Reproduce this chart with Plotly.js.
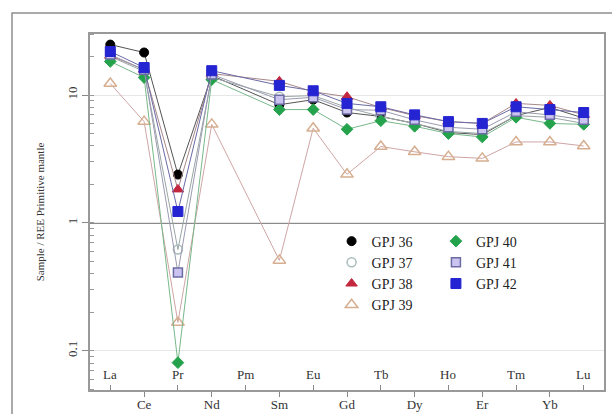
<!DOCTYPE html>
<html>
<head>
<meta charset="utf-8">
<script src="https://cdn.plot.ly/plotly-3.0.1.min.js"></script>
<style>
html,body{margin:0;padding:0;background:#fff;}
#chart{width:612px;height:414px;}
</style>
</head>
<body>
<div id="chart"></div>
<script>
// REE elements (x categories)
const elements = ['La','Ce','Pr','Nd','Pm','Sm','Eu','Gd','Tb','Dy','Ho','Er','Tm','Yb','Lu'];

// Series names
const seriesNames = ['GPJ 36','GPJ 37','GPJ 38','GPJ 39','GPJ 40','GPJ 41','GPJ 42'];

// Primitive-mantle normalised values (Pm not analysed)
const gpj36 = [24.8, 21.5, 2.39, 14.2, null, 8.4, 9.2, 7.3, 6.8, 6.0, 5.1, 4.9, 6.9, 8.0, 6.6];
const gpj37 = [20.0, 15.3, 0.62, 13.7, null, 9.7, 9.9, 8.0, 6.8, 6.0, 5.2, 5.0, 6.9, 6.7, 6.0];
const gpj38 = [20.3, 15.8, 1.83, 14.7, null, 12.8, 10.6, 9.7, 8.0, 6.9, 6.2, 6.0, 8.6, 8.3, 7.0];
const gpj39 = [12.3, 6.2, 0.167, 5.9, null, 0.51, 5.5, 2.4, 3.96, 3.6, 3.3, 3.2, 4.3, 4.3, 4.0];
const gpj40 = [18.3, 13.7, 0.081, 13.2, null, 7.7, 7.7, 5.4, 6.3, 5.7, 5.0, 4.7, 6.7, 6.0, 5.9];
const gpj41 = [20.7, 15.8, 0.41, 14.5, null, 9.2, 9.6, 7.7, 7.6, 6.4, 5.6, 5.4, 7.4, 7.0, 6.4];
const gpj42 = [21.9, 16.4, 1.23, 15.5, null, 11.9, 10.8, 8.6, 8.1, 7.0, 6.2, 6.0, 8.1, 7.7, 7.3];

// Y tick labels
const yTickVals = [0.1, 1, 10];
const yTickText = ['0.1', '1', '10'];

const seriesValues = [gpj36, gpj37, gpj38, gpj39, gpj40, gpj41, gpj42];

const styles = [
  {symbol:'circle', color:'#000000', line:{color:'#000000', width:1}, lc:'#555555', size:9, legend:'legend'},
  {symbol:'circle-open', color:'#a9bcbc', line:{color:'#a9bcbc', width:1.5}, lc:'#9aa6a6', size:9, legend:'legend'},
  {symbol:'triangle-up', color:'#c3283e', line:{color:'#c3283e', width:1}, lc:'#a88888', size:10, legend:'legend'},
  {symbol:'triangle-up-open', color:'#d6ae90', line:{color:'#d6ae90', width:1.5}, lc:'#cfa5a5', size:11, legend:'legend'},
  {symbol:'diamond', color:'#25a24c', line:{color:'#25a24c', width:1}, lc:'#78b88a', size:9, legend:'legend2'},
  {symbol:'square', color:'#cbc3f0', line:{color:'#6c6ca4', width:1.5}, lc:'#9a9ab0', size:9, legend:'legend2'},
  {symbol:'square', color:'#2424d2', line:{color:'#2424d2', width:1}, lc:'#6a6aa6', size:10, legend:'legend2'}
];

const xIdx = elements.map((e, i) => i);
const oddIdx = xIdx.filter(i => i % 2 === 1);
const evenIdx = xIdx.filter(i => i % 2 === 0);

// data traces (lines + markers), no legend entries
const dataTraces = seriesValues.map((vals, k) => ({
  type: 'scatter',
  mode: 'lines+markers',
  name: seriesNames[k],
  x: xIdx,
  y: vals,
  connectgaps: true,
  showlegend: false,
  line: {color: styles[k].lc, width: 1},
  marker: {symbol: styles[k].symbol, color: styles[k].color, size: styles[k].size, line: styles[k].line},
  hoverinfo: 'skip'
}));

// marker-only legend entries
const legendTraces = seriesNames.map((nm, k) => ({
  type: 'scatter',
  mode: 'markers',
  name: nm,
  x: [null],
  y: [null],
  legend: styles[k].legend,
  marker: {symbol: styles[k].symbol, color: styles[k].color, size: styles[k].size, line: styles[k].line},
  hoverinfo: 'skip'
}));

const fontFam = '"Liberation Serif", "Times New Roman", serif';

const annotations = evenIdx.map(i => ({
  text: elements[i], x: i, xref: 'x', y: 0, yref: 'paper',
  yanchor: 'bottom', xanchor: 'center', yshift: 6, showarrow: false,
  font: {family: fontFam, size: 13, color: '#333'}
}));

const layout = {
  width: 612, height: 414,
  margin: {l: 90, r: 8, t: 34, b: 24},
  paper_bgcolor: '#ffffff',
  plot_bgcolor: '#ffffff',
  font: {family: fontFam, size: 13, color: '#333'},
  showlegend: true,
  xaxis: {
    range: [-0.6, 14.6],
    tickmode: 'array',
    tickvals: oddIdx,
    ticktext: oddIdx.map(i => elements[i]),
    ticks: 'outside', ticklen: 5, tickcolor: '#888', tickwidth: 1,
    ticklabelstandoff: -4,
    showline: true, linecolor: '#999', linewidth: 2, mirror: true,
    showgrid: false, zeroline: false,
    tickfont: {family: fontFam, size: 13, color: '#333'},
    minor: {tickmode: 'array', tickvals: evenIdx, ticks: 'inside', ticklen: 5, tickcolor: '#888', showgrid: false}
  },
  yaxis: {
    type: 'log',
    range: [Math.log10(0.0495), Math.log10(30)],
    tickmode: 'array',
    tickvals: yTickVals,
    ticktext: yTickText,
    tickangle: -90,
    ticks: 'outside', ticklen: 6, tickcolor: '#888',
    showline: true, linecolor: '#999', linewidth: 2, mirror: true,
    showgrid: true, gridcolor: '#e6e6e6', gridwidth: 1,
    zeroline: false,
    tickfont: {family: fontFam, size: 13, color: '#333'},
    minor: {dtick: 'D1', ticks: 'inside', ticklen: 4, tickcolor: '#999', showgrid: false},
    title: {text: 'Sample / REE Primitive mantle', font: {family: fontFam, size: 11, color: '#333'}, standoff: 18}
  },
  legend: {
    x: 0.47, y: 0.462, xanchor: 'left', yanchor: 'top',
    bgcolor: 'rgba(255,255,255,0)', borderwidth: 0,
    font: {family: fontFam, size: 14, color: '#222'},
    tracegroupgap: 0
  },
  legend2: {
    x: 0.673, y: 0.462, xanchor: 'left', yanchor: 'top',
    bgcolor: 'rgba(255,255,255,0)', borderwidth: 0,
    font: {family: fontFam, size: 14, color: '#222'},
    tracegroupgap: 0
  },
  shapes: [
    {type: 'line', xref: 'paper', x0: 0, x1: 1, yref: 'y', y0: 1, y1: 1,
     line: {color: '#8a8a8a', width: 2}, layer: 'below'},
    {type: 'rect', xref: 'paper', yref: 'paper',
     x0: (12 - 90) / 514, x1: (640 - 90) / 514, y0: (390 - 440) / 356, y1: (390 - 13) / 356,
     line: {color: '#8f8f8f', width: 1.5}, fillcolor: 'rgba(0,0,0,0)', layer: 'below'}
  ],
  annotations: annotations
};

Plotly.newPlot('chart', dataTraces.concat(legendTraces), layout, {staticPlot: true, displayModeBar: false});
</script>
</body>
</html>
